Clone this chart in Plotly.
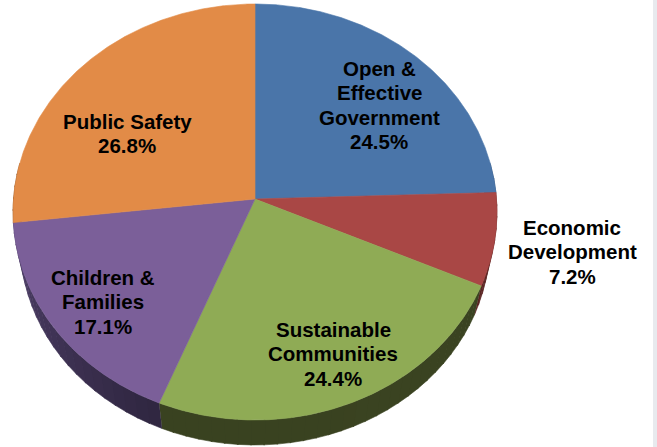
import numpy as np
import plotly.graph_objects as go

# Budget shares by priority area (percent), clockwise from 12 o'clock
categories = [
    "Open & Effective Government",
    "Economic Development",
    "Sustainable Communities",
    "Children & Families",
    "Public Safety",
]
label_lines = [
    ["Open &", "Effective", "Government"],
    ["Economic", "Development"],
    ["Sustainable", "Communities"],
    ["Children &", "Families"],
    ["Public Safety"],
]
shares = [24.5, 7.2, 24.4, 17.1, 26.8]

top_colors = ["#4a75a9", "#a94745", "#8fab55", "#7b5f99", "#e28b47"]
# wall shading: colour at the start and end of each slice's visible edge
side_start = ["#2c4668", "#5e2624", "#3a4321", "#2f2640", "#7a4a22"]
side_end = ["#2c4668", "#5a2422", "#394220", "#4e3f68", "#7a4a22"]

# label anchor (centre of first line) for each slice
label_pos = [(379, 68), (572, 227), (333, 329), (103, 277), (127, 121)]
LINE_STEP = 24.6

# tilted-disc projection parameters
CX, CY = 255.0, 199.0
RX, RY = 241.5, 207.2
PERSP = 0.0625
BASE_SCALE = 0.97
DEPTH = 31.6


def project(theta_deg):
    t = np.radians(theta_deg)
    u = np.sin(t)
    v = -np.cos(t)
    w = 1.0 - PERSP * v
    return CX + RX * u / w, CY + RY * v / w


def project_base(theta_deg):
    x, y = project(theta_deg)
    return CX + (x - CX) * BASE_SCALE, CY + DEPTH + (y - CY) * BASE_SCALE


def hex_mix(c1, c2, f):
    a = np.array([int(c1[i:i + 2], 16) for i in (1, 3, 5)], float)
    b = np.array([int(c2[i:i + 2], 16) for i in (1, 3, 5)], float)
    r = np.round(a + (b - a) * f).astype(int)
    return "#%02x%02x%02x" % tuple(r)


fig = go.Figure()

bounds = np.concatenate([[0.0], np.cumsum(shares)]) / sum(shares) * 360.0

# side walls of the front half first, so the top faces sit over them
for i in range(len(shares)):
    lo = max(bounds[i], 80.0)
    hi = min(bounds[i + 1], 280.0)
    if hi <= lo:
        continue
    n_seg = max(int((hi - lo) / 3.0), 1)
    edges = np.linspace(lo, hi, n_seg + 1)
    for s in range(n_seg):
        th = np.linspace(edges[s], edges[s + 1] + (0.3 if s < n_seg - 1 else 0), 6)
        x, y = project(th)
        xb, yb = project_base(th)
        col = hex_mix(side_start[i], side_end[i], (s + 0.5) / n_seg)
        fig.add_trace(go.Scatter(
            x=np.concatenate([x, xb[::-1]]), y=np.concatenate([y, yb[::-1]]),
            mode="lines", fill="toself", fillcolor=col,
            line=dict(color=col, width=0.6),
            hoverinfo="skip", showlegend=False,
        ))

# top faces
for i in range(len(shares)):
    th = np.linspace(bounds[i], bounds[i + 1], max(int((bounds[i + 1] - bounds[i]) * 3), 2))
    x, y = project(th)
    fig.add_trace(go.Scatter(
        x=np.concatenate([[CX], x, [CX]]), y=np.concatenate([[CY], y, [CY]]),
        mode="lines", fill="toself",
        fillcolor=top_colors[i], line=dict(color=top_colors[i], width=0.6),
        hoverinfo="skip", showlegend=False, name=categories[i],
    ))

annotations = []
for lines, share, (lx, ly) in zip(label_lines, shares, label_pos):
    for k, txt in enumerate(lines + [f"{share:.1f}%"]):
        annotations.append(dict(
            x=lx, y=ly + k * LINE_STEP, xref="x", yref="y",
            text=txt, showarrow=False, xanchor="center", yanchor="middle",
            font=dict(family="Liberation Sans, Arial, sans-serif", size=20.5,
                      color="#000000", weight="bold"),
        ))

fig.update_layout(
    width=657, height=447,
    margin=dict(l=0, r=0, t=0, b=0),
    paper_bgcolor="white", plot_bgcolor="white",
    xaxis=dict(range=[0, 657], visible=False, fixedrange=True),
    yaxis=dict(range=[447, 0], visible=False, fixedrange=True),
    annotations=annotations,
    shapes=[
        dict(type="rect", xref="x", yref="y", x0=653, x1=657, y0=0, y1=447,
             fillcolor="#e8eaee", line=dict(width=0), layer="below"),
    ],
)

fig.write_html("out.html")
